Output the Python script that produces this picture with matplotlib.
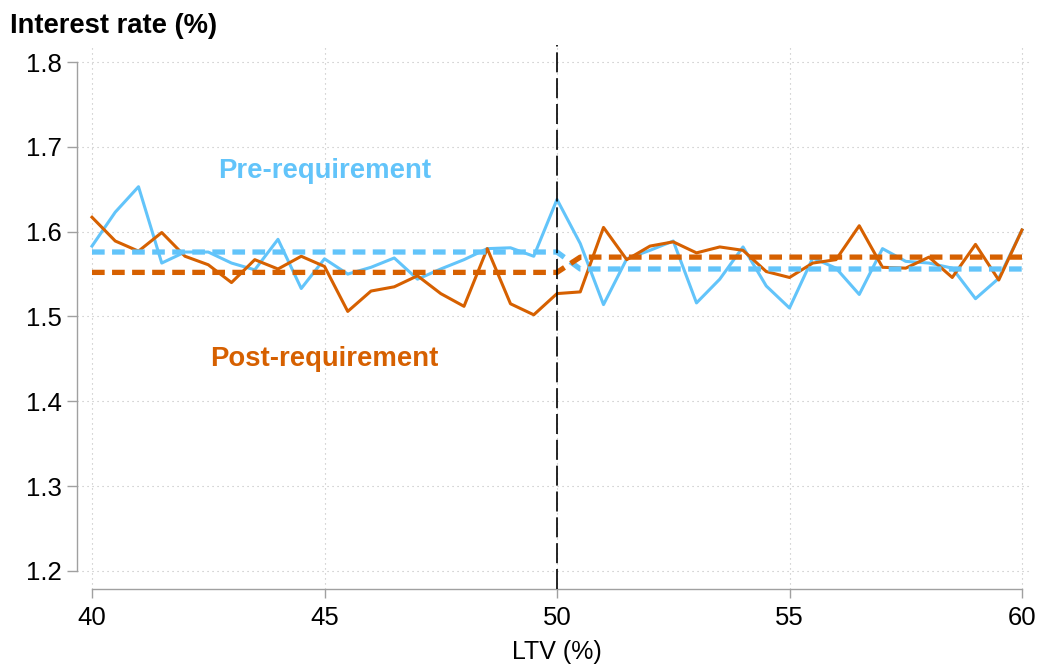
import numpy as np
import matplotlib.pyplot as plt
from matplotlib import transforms

plt.rcParams['font.family'] = ['Liberation Sans', 'DejaVu Sans']

# LTV bins (0.5 pp steps)
ltv = np.arange(40, 60.01, 0.5)

# mean interest rate per LTV bin
pre_rate = [1.583, 1.623, 1.653, 1.563, 1.576, 1.576, 1.563, 1.555, 1.591, 1.533,
            1.568, 1.550, 1.558, 1.569, 1.544, 1.556, 1.567, 1.580, 1.581, 1.571,
            1.638, 1.586, 1.514, 1.568, 1.578, 1.589, 1.516, 1.544, 1.582, 1.536,
            1.510, 1.569, 1.557, 1.526, 1.580, 1.565, 1.563, 1.557, 1.521, 1.545,
            1.602]
post_rate = [1.617, 1.589, 1.577, 1.599, 1.571, 1.561, 1.540, 1.567, 1.556, 1.571,
             1.559, 1.506, 1.530, 1.535, 1.548, 1.527, 1.512, 1.580, 1.515, 1.502,
             1.527, 1.529, 1.605, 1.567, 1.583, 1.588, 1.575, 1.582, 1.578, 1.553,
             1.546, 1.563, 1.567, 1.607, 1.558, 1.557, 1.570, 1.546, 1.585, 1.543,
             1.602]

# fitted levels below / above the 50% threshold
threshold = 50
pre_fit_below, pre_fit_above = 1.576, 1.556
post_fit_below, post_fit_above = 1.552, 1.570

pre_fit = np.where(ltv <= threshold, pre_fit_below, pre_fit_above)
post_fit = np.where(ltv <= threshold, post_fit_below, post_fit_above)

blue = '#62C4FA'
orange = '#D66000'
grey = '#a0a0a0'

fig = plt.figure(figsize=(10.4, 6.64), dpi=100)
ax = fig.add_axes([77 / 1040, 75 / 664, 953 / 1040, 544 / 664])

ax.plot(ltv, pre_rate, color=blue, lw=2.2, zorder=3)
ax.plot(ltv, post_rate, color=orange, lw=2.2, zorder=3)
ax.plot(ltv, pre_fit, color=blue, lw=3.8, ls=(0, (2.4, 1.4)), zorder=4)
ax.plot(ltv, post_fit, color=orange, lw=3.8, ls=(0, (2.4, 1.4)), zorder=4)

ax.axvline(threshold, color='black', lw=1.2, ls=(0, (12, 3.5)), zorder=5)

ax.text(45, 1.671, 'Pre-requirement', color=blue, fontsize=19.8,
        fontweight='bold', ha='center', va='center')
ax.text(45, 1.450, 'Post-requirement', color=orange, fontsize=19.8,
        fontweight='bold', ha='center', va='center')

ax.set_xlim(40 - 15 / 46.5, 60 + 8 / 46.5)
ax.set_ylim(1.2 - 18 / 848.3, 1.8 + 17 / 848.3)
ax.set_xticks([40, 45, 50, 55, 60])
ax.set_yticks([1.2, 1.3, 1.4, 1.5, 1.6, 1.7, 1.8])
ax.set_yticklabels(['1.2', '1.3', '1.4', '1.5', '1.6', '1.7', '1.8'])

for side in ['top', 'right']:
    ax.spines[side].set_visible(False)
for side in ['left', 'bottom']:
    ax.spines[side].set_color(grey)
    ax.spines[side].set_linewidth(1.0)
ax.spines['left'].set_bounds(1.2, 1.8)
ax.spines['bottom'].set_bounds(40, 60)

ax.tick_params(axis='y', length=7, width=1.0, color=grey, pad=4, labelsize=18.5)
ax.tick_params(axis='x', length=6.5, width=1.0, color=grey, pad=6, labelsize=18.5)

ax.grid(True, color='#bdbdbd', lw=0.8, ls=(0, (1, 3.5)), zorder=0)

trans = transforms.blended_transform_factory(ax.transData, fig.transFigure)
ax.text(threshold, 5 / 664, 'LTV (%)', fontsize=18, ha='center', va='baseline',
        transform=trans)
fig.text(10 / 1040, (664 - 33) / 664, 'Interest rate (%)', fontsize=19.7,
         fontweight='bold', ha='left', va='baseline')

fig.savefig('out.png', dpi=100)
